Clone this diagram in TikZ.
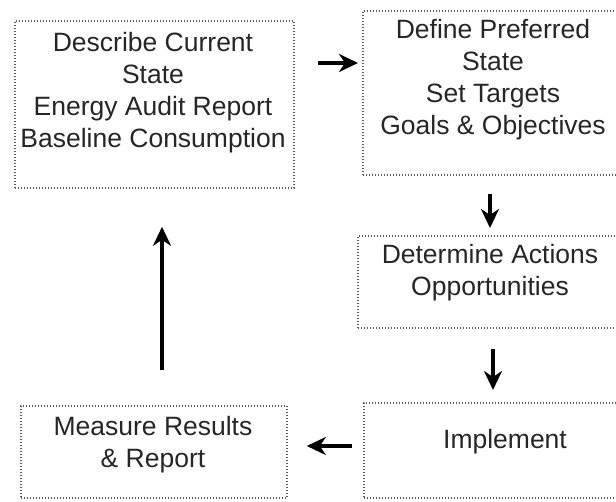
\documentclass[tikz,border=0pt]{standalone}
\usepackage{fontspec}
\setmainfont{Liberation Sans}
\usetikzlibrary{arrows.meta}
\begin{document}
\begin{tikzpicture}[x=1pt,y=-1pt,
  box/.style={draw=black!65, line width=1.8pt, dash pattern=on 1pt off 2pt,
    inner sep=0pt, anchor=north west},
  label/.style={font=\fontsize{26.5}{32}\selectfont, text=black!85, align=center,
    inner sep=0pt, anchor=north},
  arr/.style={line width=3.2pt, draw=black, -{Stealth[length=19pt,width=18pt,inset=6pt]}}]
\useasboundingbox (0,0) rectangle (616,502);
\clip (0,0) rectangle (616,502);
% the five stages of the cycle
\node[box, minimum width=279pt, minimum height=167pt] (b1) at (14,20) {};
\node[box, minimum width=270pt, minimum height=164pt] (b2) at (362,10) {};
\node[box, minimum width=270pt, minimum height=92pt] (b3) at (357,235) {};
\node[box, minimum width=290pt, minimum height=95pt] (b4) at (363,402) {};
\node[box, minimum width=266pt, minimum height=92pt] (b5) at (20,405) {};
% stage texts
\node[label] (t1) at (153,32) {Describe Current\\State\\Energy Audit Report\\Baseline Consumption};
\node[label] (t2) at (493,19) {Define Preferred\\State\\Set Targets\\Goals \& Objectives};
\node[label] (t3) at (490,244) {Determine Actions\\Opportunities};
\node[label] (t4) at (505,429) {Implement};
\node[label] (t5) at (153,416) {Measure Results\\\& Report};
% arrows between stages
\draw[arr, shorten <=23pt, shorten >=4pt] (b1.east |- 0,63) -- (b2.west |- 0,63);
\draw[arr, shorten <=18pt, shorten >=7pt] (490,0 |- b2.south) -- (490,0 |- b3.north);
\draw[arr, shorten <=20pt, shorten >=12pt] (493,0 |- b3.south) -- (493,0 |- b4.north);
\draw[arr, shorten <=11pt, shorten >=19pt] (b4.west |- 0,446) -- (b5.east |- 0,446);
\draw[arr, shorten <=35pt, shorten >=38pt] (162,0 |- b5.north) -- (162,0 |- b1.south);
\end{tikzpicture}
\end{document}
